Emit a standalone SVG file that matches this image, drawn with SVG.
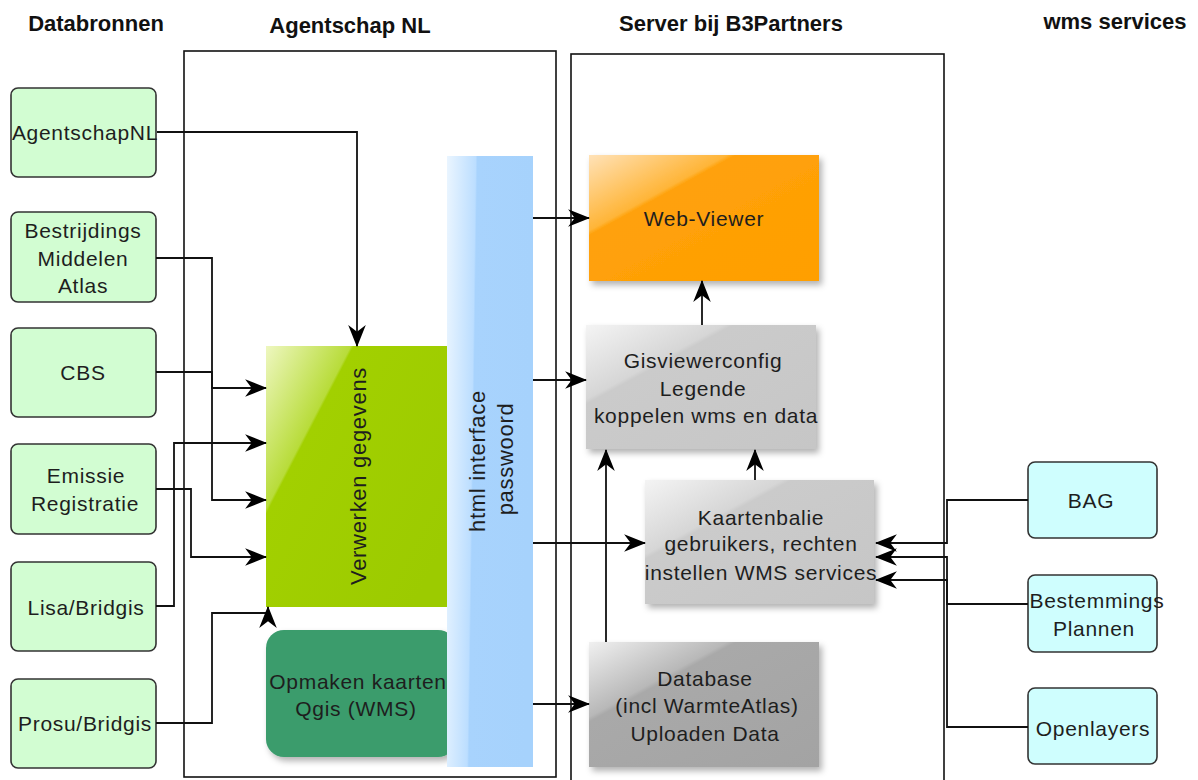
<svg xmlns="http://www.w3.org/2000/svg" width="1198" height="780" viewBox="0 0 1198 780">
<defs>
<style>
.hdr{font-family:"Liberation Sans",Arial,sans-serif;font-weight:bold;font-size:22px;fill:#111;text-anchor:middle}
.t{font-family:"Liberation Sans",Arial,sans-serif;font-size:21px;letter-spacing:0.7px;fill:#1e1e1e;text-anchor:middle}
.cont{fill:none;stroke:#111;stroke-width:1.6}
.src{fill:#d2fdd2;stroke:#333;stroke-width:1.6}
.wms{fill:#cffefe;stroke:#333;stroke-width:1.6}
.arr{fill:none;stroke:#111;stroke-width:1.8;marker-end:url(#ah)}
</style>
<marker id="ah" markerUnits="userSpaceOnUse" viewBox="0 0 20 16" markerWidth="22" markerHeight="17.6" refX="19" refY="8" orient="auto">
<path d="M0,0 L20,8 L0,16 L6,8 Z" fill="#000"/>
</marker>
<linearGradient id="gGreen" x1="0" y1="0" x2="1" y2="0.75">
<stop offset="0" stop-color="#eef7c0"/>
<stop offset="0.3" stop-color="#b8dc3a"/>
<stop offset="0.31" stop-color="#a2d000"/>
<stop offset="1" stop-color="#9ccb00"/>
</linearGradient>
<linearGradient id="gBlue" x1="0" y1="0" x2="1" y2="0.1">
<stop offset="0" stop-color="#eaf5ff"/>
<stop offset="0.33" stop-color="#bcdeff"/>
<stop offset="0.35" stop-color="#a8d3fd"/>
<stop offset="1" stop-color="#a6d2fc"/>
</linearGradient>
<linearGradient id="gOrange" x1="0" y1="0" x2="1" y2="1">
<stop offset="0" stop-color="#ffe2b8"/>
<stop offset="0.3" stop-color="#ffb538"/>
<stop offset="0.32" stop-color="#ffa10a"/>
<stop offset="1" stop-color="#ff9f00"/>
</linearGradient>
<linearGradient id="gGray" x1="0" y1="0" x2="1" y2="1">
<stop offset="0" stop-color="#f4f4f4"/>
<stop offset="0.3" stop-color="#d6d6d6"/>
<stop offset="0.32" stop-color="#cbcbcb"/>
<stop offset="1" stop-color="#c6c6c6"/>
</linearGradient>
<linearGradient id="gDark" x1="0" y1="0" x2="1" y2="1">
<stop offset="0" stop-color="#f0f0f0"/>
<stop offset="0.3" stop-color="#b8b8b8"/>
<stop offset="0.32" stop-color="#a9a9a9"/>
<stop offset="1" stop-color="#a3a3a3"/>
</linearGradient>
<filter id="sh" x="-10%" y="-10%" width="130%" height="130%">
<feDropShadow dx="3" dy="4" stdDeviation="3" flood-color="#000" flood-opacity="0.3"/>
</filter>
</defs>
<rect width="1198" height="780" fill="#fff"/>

<g id="headers">
<text class="hdr" x="96" y="31">Databronnen</text>
<text class="hdr" x="350" y="33">Agentschap NL</text>
<text class="hdr" x="731" y="31">Server bij B3Partners</text>
<text class="hdr" x="1115" y="29">wms services</text>
</g>

<g id="containers">
<rect id="agentschap-container" class="cont" x="184" y="51" width="372" height="726"/>
<rect id="server-container" class="cont" x="571" y="54" width="373" height="740"/>
</g>

<g id="src-agentschapnl"><rect class="src" x="11" y="88" width="145" height="89" rx="7"/><text class="t" x="85" y="140">AgentschapNL</text></g>
<g id="src-bestrijdings"><rect class="src" x="11" y="212" width="145" height="90" rx="7"/><text class="t" x="83" y="238">Bestrijdings</text><text class="t" x="83" y="266">Middelen</text><text class="t" x="83" y="293">Atlas</text></g>
<g id="src-cbs"><rect class="src" x="11" y="328" width="145" height="89" rx="7"/><text class="t" x="83" y="380">CBS</text></g>
<g id="src-emissie"><rect class="src" x="11" y="444" width="145" height="90" rx="7"/><text class="t" x="86" y="483">Emissie</text><text class="t" x="85" y="511">Registratie</text></g>
<g id="src-lisa"><rect class="src" x="11" y="562" width="145" height="89" rx="7"/><text class="t" x="86" y="615">Lisa/Bridgis</text></g>
<g id="src-prosu"><rect class="src" x="11" y="679" width="145" height="89" rx="7"/><text class="t" x="85" y="731">Prosu/Bridgis</text></g>

<g id="verwerken"><rect x="266" y="346" width="181" height="261" fill="url(#gGreen)"/><text class="t" transform="translate(358,476) rotate(-90)" x="0" y="8" style="font-size:22px">Verwerken gegevens</text></g>

<g id="opmaken"><rect x="266" y="630" width="190" height="127" rx="18" fill="#3a9c6c" filter="url(#sh)"/><text class="t" x="358" y="689">Opmaken kaarten</text><text class="t" x="356" y="716">Qgis (WMS)</text></g>

<g id="html-interface"><rect x="447" y="156" width="86" height="611" fill="url(#gBlue)"/><text class="t" transform="translate(477,461) rotate(-90)" x="0" y="8" style="font-size:22px">html interface</text><text class="t" transform="translate(505,459) rotate(-90)" x="0" y="8" style="font-size:22px">passwoord</text></g>

<g id="web-viewer"><rect x="589" y="155" width="230" height="126" fill="url(#gOrange)" filter="url(#sh)"/><text class="t" x="704" y="226">Web-Viewer</text></g>

<g id="gisviewerconfig"><rect x="586" y="325" width="230" height="124" fill="url(#gGray)" filter="url(#sh)"/><text class="t" x="703" y="368">Gisviewerconfig</text><text class="t" x="703" y="396">Legende</text><text class="t" x="706" y="423">koppelen wms en data</text></g>

<g id="kaartenbalie"><rect x="645" y="480" width="229" height="124" fill="url(#gGray)" filter="url(#sh)"/><text class="t" x="761" y="525">Kaartenbalie</text><text class="t" x="761" y="551">gebruikers, rechten</text><text class="t" x="761" y="580">instellen WMS services</text></g>

<g id="database"><rect x="589" y="642" width="230" height="125" fill="url(#gDark)" filter="url(#sh)"/><text class="t" x="705" y="686">Database</text><text class="t" x="707" y="713">(incl WarmteAtlas)</text><text class="t" x="705" y="741">Uploaden Data</text></g>

<g id="wms-bag"><rect class="wms" x="1028" y="462" width="129" height="76" rx="7"/><text class="t" x="1091" y="508">BAG</text></g>
<g id="wms-bestemmings"><rect class="wms" x="1028" y="575" width="129" height="77" rx="7"/><text class="t" x="1097" y="608">Bestemmings</text><text class="t" x="1094" y="636">Plannen</text></g>
<g id="wms-openlayers"><rect class="wms" x="1028" y="688" width="129" height="76" rx="7"/><text class="t" x="1093" y="736">Openlayers</text></g>

<g id="connectors">
<path class="arr" d="M157,132 H357 V346"/>
<path class="arr" d="M156,258 H212 V388 H266"/>
<path class="arr" d="M156,372 H212 V500 H266"/>
<path class="arr" d="M156,489 H191 V557 H266"/>
<path class="arr" d="M156,606 H174 V443 H266"/>
<path class="arr" d="M156,723 H212 V613 H268 V607"/>
<path class="arr" d="M533,218 H589"/>
<path class="arr" d="M533,380 H586"/>
<path class="arr" d="M533,543 H645"/>
<path class="arr" d="M533,704 H589"/>
<path class="arr" d="M702,325 V281"/>
<path class="arr" d="M755,480 V450"/>
<path class="arr" d="M606,642 V450"/>
<path class="arr" d="M1028,500 H947 V543 H876"/>
<path class="arr" d="M1028,604 H947 V557 H876"/>
<path class="arr" d="M1028,727 H947 V580 H876"/>
</g>
</svg>
